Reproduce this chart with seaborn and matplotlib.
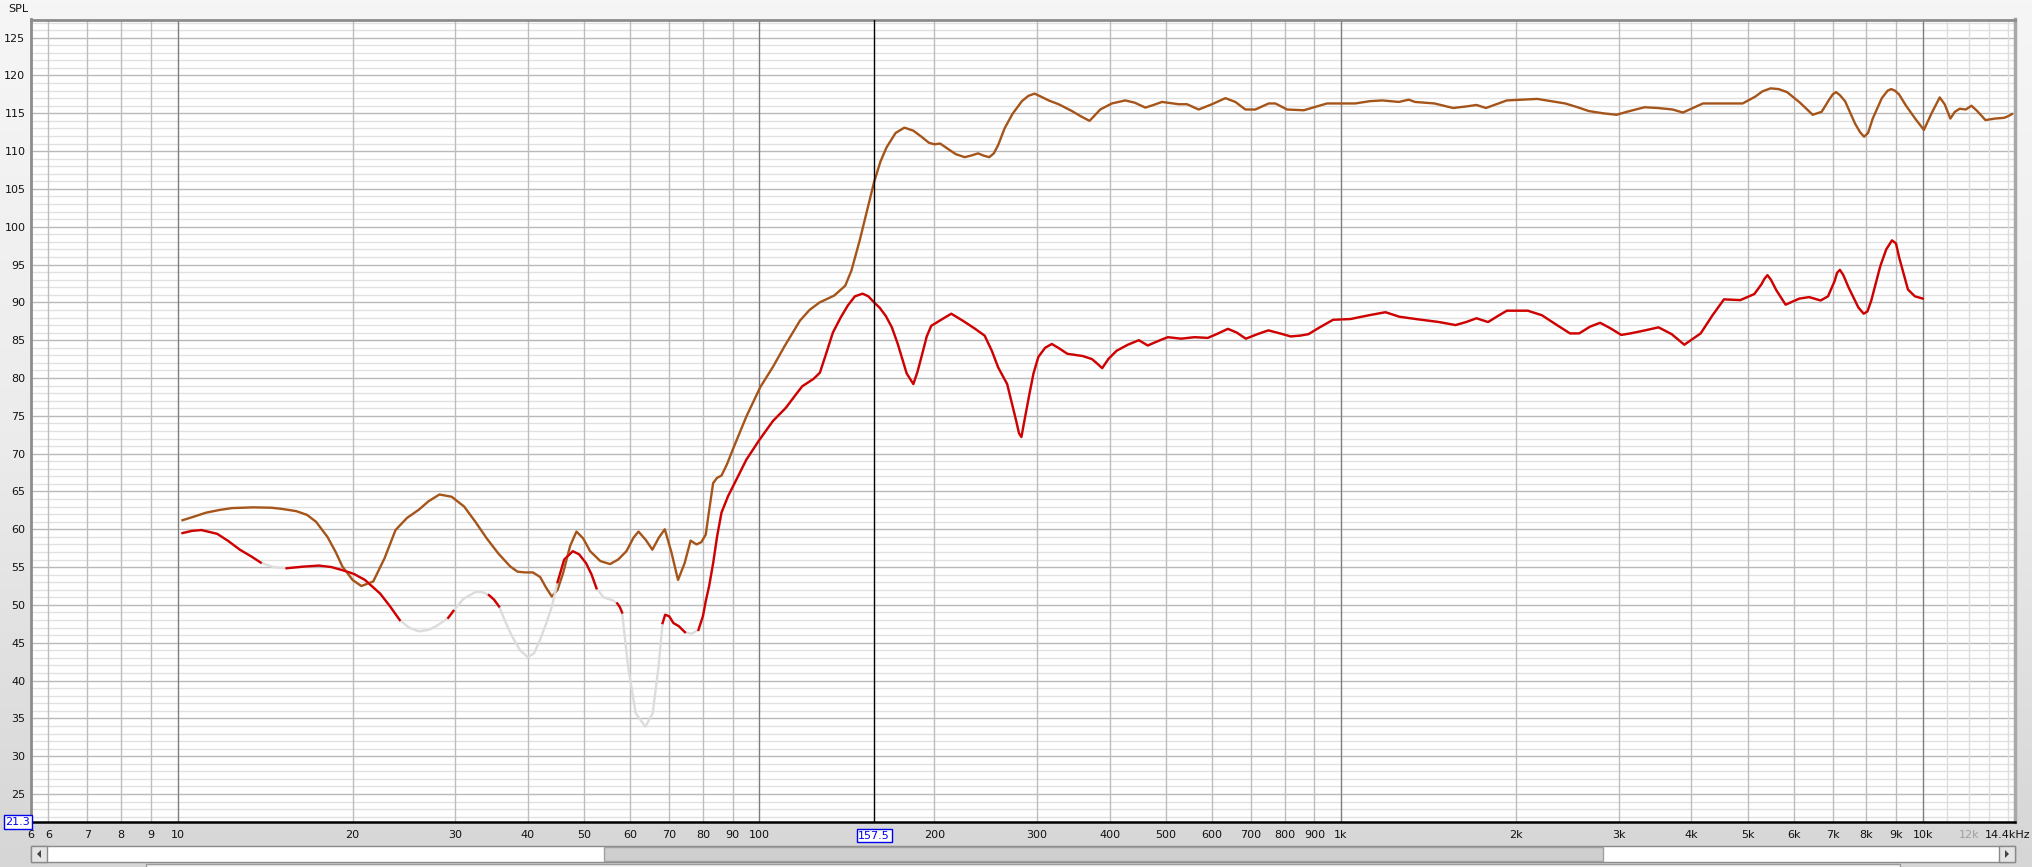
import numpy as np
import pandas as pd
import matplotlib
matplotlib.use("Agg")
import matplotlib.pyplot as plt
import seaborn as sns
from matplotlib.colors import LinearSegmentedColormap
from matplotlib.patches import Rectangle, Polygon
from matplotlib.ticker import NullLocator
from matplotlib.transforms import blended_transform_factory, ScaledTranslation

# curva superior (marrón): frecuencia en Hz, nivel en dB SPL
brown_freq = [10.2, 10.6, 11.2, 11.8, 12.4, 13.5, 14.5, 15.1, 16.0, 16.7, 17.3, 18.1, 18.7, 19.2,
              20.0, 20.7, 21.7, 22.7, 23.7, 24.8, 26.0, 27.0, 28.2, 29.6, 31.1, 32.5, 34.0, 35.6,
              37.3, 38.4, 39.5, 40.8, 42.0, 43.0, 44.0, 45.0, 46.0, 47.3, 48.5, 49.8, 51.2, 53.3,
              55.4, 57.2, 59.1, 60.8, 62.0, 63.8, 65.5, 67.2, 68.8, 70.6, 72.5, 74.4, 76.2, 78.0,
              79.5, 80.9, 82.0, 83.3, 84.6, 86.1, 88.0, 90.1, 95.0, 100.4, 105.6, 110.5, 117.5,
              122.0, 127.0, 134.5, 140.5, 144.0, 148.8, 153.0, 157.5, 161.5, 165.5, 171.5, 177.6,
              184.0, 190.0, 195.7, 200.0, 204.6, 210.0, 217.6, 225.4, 231.0, 237.7, 243.0, 248.5,
              253.0, 257.4, 264.0, 272.3, 282.7, 290.0, 297.3, 305.0, 314.3, 326.9,
              344.6, 356.1, 369.5, 377.0, 385.5, 403.7, 425.6, 442.0, 460.9, 476.0,
              492.2, 525.8, 543.4, 569.2, 600.0, 632.6, 658.1, 684.7, 712.3, 751.0,
              771.0, 807.6, 862.7, 946.0, 1000, 1058, 1120, 1177, 1257,
              1307, 1340, 1447, 1558, 1640, 1709, 1774, 1850, 1927, 2050,
              2173, 2300, 2428, 2550, 2664, 2820, 2975, 3100, 3324, 3500, 3714, 3868, 4000, 4188,
              4500, 4900, 5150, 5300, 5475, 5650, 5842, 6150, 6466, 6700,
              6900, 7000, 7091, 7200, 7350, 7650, 7800, 7924, 8050, 8200,
              8500, 8700, 8821, 8950, 9100, 9356, 9700, 10040, 10350, 10690,
              10900, 11150, 11350, 11570, 11850,
              12120, 12400, 12810, 13300, 13790, 14000, 14230]
brown_spl = [61.2, 61.6, 62.2, 62.55, 62.8, 62.9, 62.85, 62.7, 62.4, 61.9, 61.0, 59.0, 57.0, 55.1,
             53.3, 52.5, 53.1, 56.2, 59.9, 61.5, 62.6, 63.7, 64.6, 64.3, 63.0, 61.0, 58.8, 56.8,
             55.1, 54.4, 54.3, 54.3, 53.7, 52.3, 51.1, 52.0, 54.2, 57.8, 59.7, 58.8, 57.1, 55.8,
             55.4, 56.0, 57.1, 58.9, 59.7, 58.6, 57.3, 58.9, 60.0, 57.0, 53.3, 55.5, 58.5, 58.0,
             58.3, 59.3, 62.5, 66.1, 66.8, 67.1, 68.6, 70.6, 74.9, 78.8, 81.5, 84.2, 87.6,
             89.0, 90.0, 90.9, 92.2, 94.2, 98.2, 102.0, 105.9, 108.6, 110.5, 112.4, 113.1,
             112.7, 111.9, 111.1, 110.9, 111.0, 110.4, 109.6, 109.2, 109.4, 109.7, 109.4, 109.2,
             109.7, 110.8, 113.0, 114.9, 116.6, 117.3, 117.6, 117.2, 116.7, 116.2,
             115.3, 114.65, 114.0, 114.7, 115.5, 116.3, 116.7, 116.4, 115.75, 116.1,
             116.5, 116.2, 116.2, 115.5, 116.2, 117.0, 116.5, 115.5, 115.5, 116.3,
             116.3, 115.5, 115.4, 116.3, 116.3, 116.3, 116.6, 116.7, 116.5,
             116.8, 116.5, 116.3, 115.7, 115.9, 116.1, 115.7, 116.2, 116.7, 116.8,
             116.9, 116.6, 116.3, 115.8, 115.3, 115.0, 114.8, 115.2, 115.8, 115.7, 115.5, 115.1, 115.6, 116.3,
             116.3, 116.3, 117.2, 117.9, 118.3, 118.2, 117.8, 116.4, 114.8, 115.2,
             116.8, 117.5, 117.8, 117.4, 116.6, 113.6, 112.5, 111.9, 112.4, 114.3,
             117.0, 118.0, 118.2, 118.0, 117.5, 116.0, 114.3, 112.8, 115.0, 117.1,
             116.2, 114.3, 115.2, 115.6, 115.5,
             116.0, 115.3, 114.1, 114.3, 114.4, 114.6, 114.9]

# curva inferior (roja)
red_freq = [10.2, 10.6, 11.0, 11.7, 12.2, 12.8, 13.4, 13.9, 14.6, 15.4, 16.4, 17.5, 18.4, 19.2,
            20.1, 21.0, 22.3, 23.2, 24.1, 25.0, 26.0, 27.0, 28.0, 29.2, 29.8, 31.0, 32.5, 33.4,
            34.3, 35.0, 35.7, 36.6, 37.5, 38.8, 40.0, 41.0, 42.0, 43.0, 44.0, 45.0, 46.2, 47.8,
            49.0, 50.4, 51.5, 52.5, 54.0, 55.0, 56.0, 57.0, 57.6, 58.1, 59.5, 61.3, 63.7, 65.6,
            67.1, 68.2, 68.9, 70.0, 71.2, 72.7, 74.5, 76.5, 78.6, 80.0, 80.9, 82.0, 83.3, 84.6,
            86.1, 88.4, 90.7, 95.0, 100.0, 105.5, 111.2, 115.0, 118.5, 124.0, 127.1, 130.0, 133.8,
            138.0, 142.0, 146.0, 150.5, 154.0, 157.5, 161.0, 165.0, 169.0, 173.0, 176.0, 179.2,
            184.0, 187.0, 190.6, 194.0, 197.5, 206.4, 213.8, 223.5, 234.0, 244.0, 251.0, 257.4,
            266.7, 272.0, 276.3, 279.5, 282.2, 285.0, 291.3, 296.0, 301.8, 310.0, 318.3, 328.0,
            338.5, 360.1, 373.1, 381.0, 388.5, 398.0, 411.2, 430.0, 449.1, 465.3, 485.0, 503.7,
            531.0, 560.0, 590.0, 615.0, 639.0, 662.0, 686.0, 718.0, 750.0, 785.0, 819.0, 850.0,
            879.0, 919.0, 969.0, 1038, 1117, 1192, 1260, 1344, 1474, 1573, 1640, 1709, 1789, 1860,
            1927, 2094, 2214, 2350, 2474, 2566, 2680, 2788, 2900, 3030, 3145, 3330, 3513, 3700,
            3890, 4150, 4350, 4551, 4855, 5132, 5280, 5340, 5405, 5480, 5600, 5808, 6135, 6376,
            6672, 6870,
            7050, 7120, 7201, 7300, 7450, 7750, 7913, 8030, 8150, 8450,
            8650, 8850, 8990, 9100, 9427, 9690, 9999]
red_spl = [59.5, 59.8, 59.9, 59.4, 58.5, 57.3, 56.4, 55.6, 55.0, 54.85, 55.05, 55.2, 55.0, 54.6,
           54.1, 53.3, 51.5, 49.8, 48.0, 47.0, 46.5, 46.7, 47.3, 48.3, 49.2, 50.8, 51.7, 51.7,
           51.3, 50.7, 49.8, 47.8, 46.0, 44.0, 43.1, 43.6, 45.4, 47.5, 49.8, 53.0, 56.0, 57.1,
           56.7, 55.5, 54.0, 52.2, 51.0, 50.8, 50.6, 50.2, 49.7, 49.0, 41.8, 35.7, 33.9, 35.7,
           41.8, 47.6, 48.7, 48.5, 47.6, 47.2, 46.4, 46.2, 46.7, 48.5, 50.5, 52.5, 55.5, 59.0,
           62.2, 64.4, 66.1, 69.2, 71.8, 74.3, 76.1, 77.6, 78.9, 79.9, 80.7, 83.0, 86.0,
           88.0, 89.6, 90.8, 91.15, 90.8, 90.0, 89.3, 88.2, 86.7, 84.5, 82.6, 80.6,
           79.2, 80.8, 83.2, 85.5, 86.9, 87.8, 88.5, 87.6, 86.6, 85.6, 83.6, 81.4,
           79.2, 76.5, 74.4, 72.7, 72.2, 74.0, 77.9, 80.6, 82.8, 84.0, 84.5, 83.9,
           83.2, 82.9, 82.5, 81.9, 81.3, 82.5, 83.6, 84.4, 85.0, 84.3, 84.9, 85.4,
           85.2, 85.4, 85.3, 85.9, 86.5, 86.0, 85.2, 85.8, 86.3, 85.9, 85.5, 85.6,
           85.8, 86.7, 87.7, 87.8, 88.3, 88.7, 88.1, 87.8, 87.4, 87.0, 87.4, 87.9, 87.4, 88.2,
           88.9, 88.9, 88.3, 87.0, 85.9, 85.9, 86.8, 87.3, 86.6, 85.7, 85.9, 86.3, 86.7, 85.8,
           84.4, 85.9, 88.3, 90.4, 90.3, 91.1, 92.4, 93.1, 93.6, 93.0, 91.6, 89.7, 90.5, 90.7,
           90.25, 90.8,
           92.8, 93.9, 94.3, 93.6, 92.0, 89.3, 88.5, 88.8, 90.2, 94.8,
           97.0, 98.2, 97.8, 96.0, 91.7, 90.8, 90.5]
# puntos de la curva roja que aparecen en gris claro
red_grey_freq = [14.6, 25.0, 26.0, 27.0, 28.0, 31.0, 32.5, 33.4, 36.6, 37.5, 38.8, 40.0, 41.0,
                 42.0, 43.0, 44.0, 54.0, 55.0, 56.0, 59.5, 61.3, 63.7, 65.6, 67.1, 76.5]

y_ticks = list(range(25, 130, 5))
x_tick_vals = [5.6, 6, 7, 8, 9, 10, 20, 30, 40, 50, 60, 70, 80, 90, 100, 200, 300, 400, 500,
               600, 700, 800, 900, 1000, 2000, 3000, 4000, 5000, 6000, 7000, 8000, 9000, 10000,
               12000, 14400]
x_tick_labels = ["6", "6", "7", "8", "9", "10", "20", "30", "40", "50", "60", "70", "80", "90",
                 "100", "200", "300", "400", "500", "600", "700", "800", "900", "1k", "2k", "3k",
                 "4k", "5k", "6k", "7k", "8k", "9k", "10k", "12k", "14.4kHz"]
cursor_freq = 157.5
cursor_spl = 21.3

W, H = 2033, 867
fig = plt.figure(figsize=(W / 100, H / 100), dpi=100)

# fondo degradado de la ventana
bg = fig.add_axes([0, 0, 1, 1], zorder=-10)
cmap_bg = LinearSegmentedColormap.from_list("bg", ["#d6d6d6", "#ececec", "#f6f6f6"])
bg.imshow(np.linspace(0, 1, 256).reshape(-1, 1)[::-1], aspect="auto", cmap=cmap_bg,
          extent=[0, 1, 0, 1])
bg.axis("off")

ax = fig.add_axes([31 / W, 1 - 822 / H, (2015 - 31) / W, (822 - 19.5) / H])
ax.set_facecolor("white")
ax.set_xscale("log")
ax.set_xlim(5.6, 14400)
ax.set_ylim(cursor_spl, 127.4)

# rejilla
for v in np.arange(22, 128, 1):
    ax.axhline(v, color="#b9b9b9" if v % 5 == 0 else "#e1e1e1", lw=1, zorder=0)
for dec in [1, 10, 100, 1000]:
    for k in range(1, 10):
        f = dec * k
        if f < 6 or f > 14400:
            continue
        col = "#7d7d7d" if k == 1 else "#bdbdbd"
        ax.axvline(f, color=col, lw=1, zorder=0.5)
ax.axvline(10000, color="#7d7d7d", lw=1, zorder=0.5)
for f in [11000, 12000, 13000, 14000]:
    ax.axvline(f, color="#dedede", lw=1, zorder=0.5)

df_b = pd.DataFrame({"freq": brown_freq, "spl": brown_spl})
df_r = pd.DataFrame({"freq": red_freq, "spl": red_spl})
df_r["ok"] = ~df_r["freq"].isin(red_grey_freq)
df_r["seg"] = np.cumsum(~df_r["ok"].values)

sns.lineplot(data=df_b, x="freq", y="spl", color="#a5541a", lw=1.7, sort=False,
             estimator=None, ax=ax, zorder=3)
sns.lineplot(data=df_r, x="freq", y="spl", color="#dcdcdc", lw=1.7, sort=False,
             estimator=None, ax=ax, zorder=4)
sns.lineplot(data=df_r[df_r["ok"]], x="freq", y="spl", units="seg", color="#d10000",
             lw=1.7, sort=False, estimator=None, ax=ax, zorder=5)

ax.axvline(cursor_freq, color="black", lw=1, zorder=6)

ax.set_xlabel("")
ax.set_ylabel("")
ax.set_yticks(y_ticks)
ax.set_yticklabels([str(t) for t in y_ticks])
ax.set_xticks(x_tick_vals)
ax.set_xticklabels(x_tick_labels)
ax.xaxis.set_minor_locator(NullLocator())
ax.tick_params(axis="both", length=0, labelsize=8, colors="#111111")
ax.tick_params(axis="y", pad=4)
ax.tick_params(axis="x", pad=6)
for lbl in ax.get_xticklabels():
    if lbl.get_text() == "12k":
        lbl.set_color("#a0a0a0")
    if lbl.get_text() == "14.4kHz":
        lbl.set_transform(lbl.get_transform() + ScaledTranslation(-0.07, 0, fig.dpi_scale_trans))

for side in ["left", "top"]:
    ax.spines[side].set_color("#8c8c8c")
    ax.spines[side].set_linewidth(2)
ax.spines["right"].set_color("#a8a8a8")
ax.spines["right"].set_linewidth(2.5)
ax.spines["bottom"].set_color("black")
ax.spines["bottom"].set_linewidth(1.8)

# marcadores del cursor
trans = blended_transform_factory(ax.transData, ax.transAxes)
ax.text(cursor_freq, -0.017, "157.5", transform=trans, ha="center", va="center", fontsize=8,
        color="#0000ee", bbox=dict(boxstyle="square,pad=0.15", fc="white", ec="#0000ee", lw=1))
fig.text(18 / W, 1 - 822 / H, "21.3", ha="center", va="center", fontsize=8, color="#0000ee",
         bbox=dict(boxstyle="square,pad=0.15", fc="white", ec="#0000ee", lw=1))
fig.text(8 / W, 1 - 9 / H, "SPL", ha="left", va="center", fontsize=8, color="#111111")

# barra de desplazamiento inferior
def frect(x0, y0, x1, y1, **kw):
    fig.patches.append(Rectangle((x0 / W, 1 - y1 / H), (x1 - x0) / W, (y1 - y0) / H,
                                 transform=fig.transFigure, **kw))

frect(31, 846, 2015, 862, fc="white", ec="#8a8a8a", lw=1)
frect(604, 847, 1603, 861, fc="#cfcfcf", ec="#a0a0a0", lw=1)
frect(31, 846, 47, 862, fc="#e4e4e4", ec="#8a8a8a", lw=1)
frect(1999, 846, 2015, 862, fc="#e4e4e4", ec="#8a8a8a", lw=1)
fig.patches.append(Polygon([[41 / W, 1 - 850 / H], [41 / W, 1 - 858 / H], [37 / W, 1 - 854 / H]],
                           closed=True, fc="#444444", transform=fig.transFigure))
fig.patches.append(Polygon([[2005 / W, 1 - 850 / H], [2005 / W, 1 - 858 / H], [2009 / W, 1 - 854 / H]],
                           closed=True, fc="#444444", transform=fig.transFigure))
frect(146, 864, 1900, 870, fc="#f4f4f4", ec="#9a9a9a", lw=1)

fig.savefig("out.png", dpi=100)
